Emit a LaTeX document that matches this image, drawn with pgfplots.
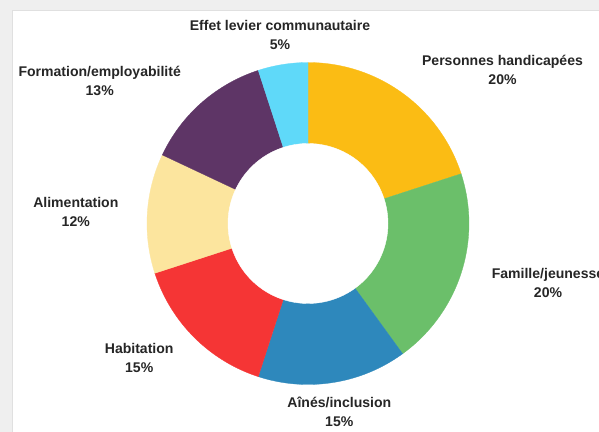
\documentclass[border=0pt]{standalone}
\usepackage{pgfplots}
\pgfplotsset{compat=1.18}
\usepackage{fontspec}
\setmainfont{Liberation Sans}

\definecolor{cYellow}{HTML}{FBBC14}
\definecolor{cGreen}{HTML}{6BBF6A}
\definecolor{cBlue}{HTML}{2E88BC}
\definecolor{cRed}{HTML}{F53535}
\definecolor{cCream}{HTML}{FCE59E}
\definecolor{cPurple}{HTML}{5E3566}
\definecolor{cCyan}{HTML}{5FD9F9}
\definecolor{frame}{HTML}{EFEFEF}
\definecolor{txt}{HTML}{262626}

\tikzset{lbl/.style={align=center, text=txt, inner sep=0pt,
  font=\bfseries\fontsize{14.1}{19.3}\selectfont}}

% donut geometry (in px of the 599x432 picture)
\def\cx{308}
\def\cy{208.5}
\def\R{161}
\def\r{80}

% one slice: #1 = share before it (%), #2 = its share (%), #3 = colour
\newcommand\slice[3]{%
  \addplot[fill=#3, draw=#3, line width=0.3pt, samples=80, variable=\t,
    domain=90-3.6*(#1+#2):90-3.6*(#1)]
    ({\cx+\R*cos(\t)},{\cy+\R*sin(\t)}) -- (axis cs:\cx,\cy) -- cycle;}

\begin{document}
\begin{tikzpicture}
\useasboundingbox (0,0) rectangle (599bp,432bp);
\clip (0,0) rectangle (599bp,432bp);
\fill[frame] (0,0) rectangle (599bp,432bp);
\fill[white] (12bp,0) rectangle (599bp,422bp);
\draw[black!12, line width=0.8pt] (12bp,0) -- (12bp,422bp) -- (599bp,422bp);

\begin{axis}[
    x=1bp, y=1bp,
    at={(0,0)}, anchor=origin,
    xmin=0, xmax=599, ymin=0, ymax=432,
    hide axis, clip=false,
  ]
  \slice{0}{20}{cYellow}   % Personnes handicapées
  \slice{20}{20}{cGreen}   % Famille/jeunesse
  \slice{40}{15}{cBlue}    % Aînés/inclusion
  \slice{55}{15}{cRed}     % Habitation
  \slice{70}{12}{cCream}   % Alimentation
  \slice{82}{13}{cPurple}  % Formation/employabilité
  \slice{95}{5}{cCyan}     % Effet levier communautaire
  \addplot[fill=white, draw=white, samples=120, domain=0:360]
    ({\cx+\r*cos(x)},{\cy+\r*sin(x)}) -- cycle;

  \node[lbl] at (axis cs:280,396.7) {Effet levier communautaire\\5\%};
  \node[lbl] at (axis cs:502.5,362.3) {Personnes handicapées\\20\%};
  \node[lbl] at (axis cs:548,149) {Famille/jeunesse\\20\%};
  \node[lbl] at (axis cs:339.3,20) {Aînés/inclusion\\15\%};
  \node[lbl] at (axis cs:139.2,74.2) {Habitation\\15\%};
  \node[lbl] at (axis cs:75.8,220.3) {Alimentation\\12\%};
  \node[lbl] at (axis cs:99.7,350.8) {Formation/employabilité\\13\%};
\end{axis}
\end{tikzpicture}
\end{document}
